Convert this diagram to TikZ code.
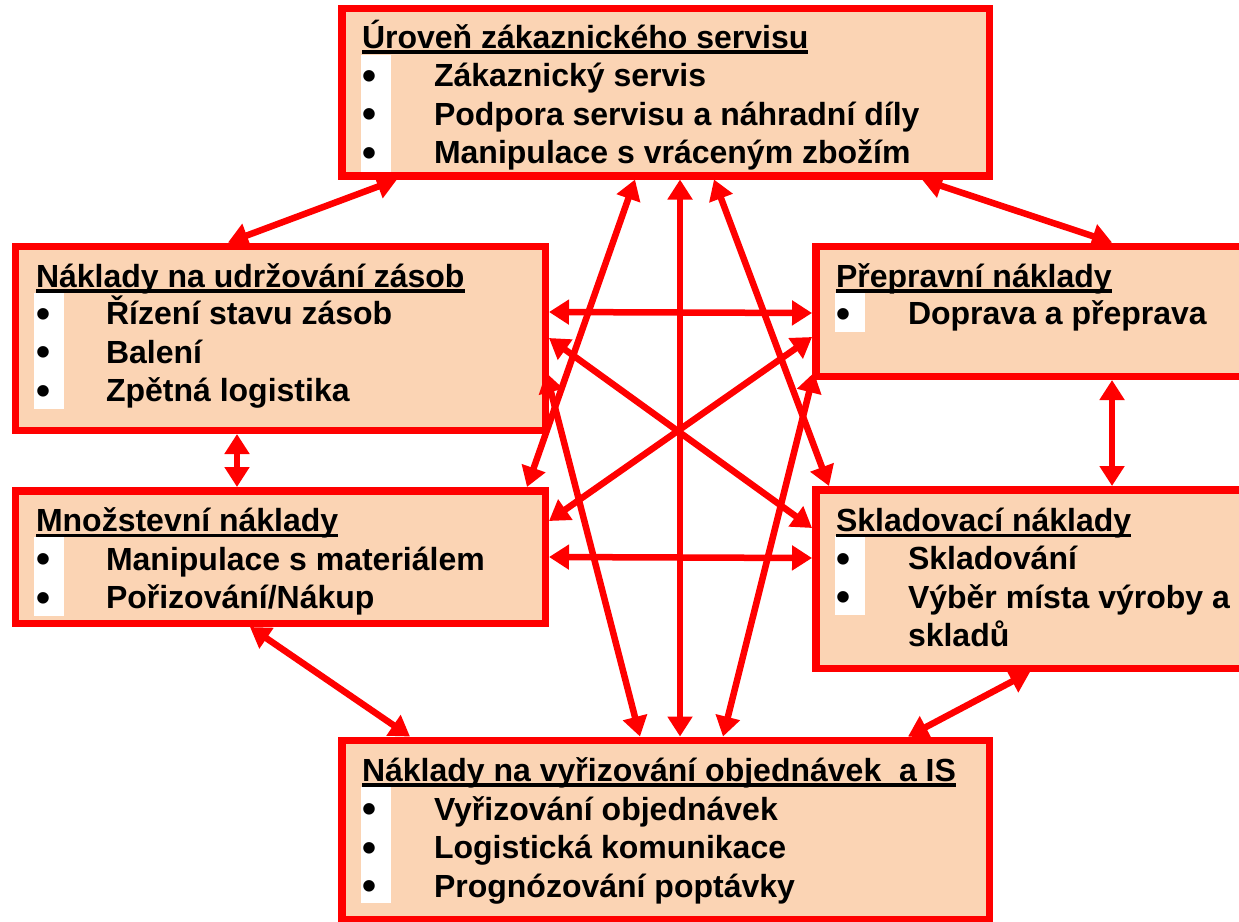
\documentclass[tikz,border=0pt]{standalone}
\usepackage{fontspec}
\setmainfont{Liberation Sans}
\usetikzlibrary{arrows.meta}
\definecolor{peach}{HTML}{FBD4B4}
\definecolor{rd}{HTML}{FF0000}
\begin{document}
\begin{tikzpicture}[x=1pt,y=-1pt,
  box/.style={draw=rd,fill=peach,line width=7.5pt,outer sep=3.75pt,inner sep=0pt,rectangle},
  txt/.style={anchor=base west,inner sep=0pt,outer sep=0pt,font=\fontsize{32}{38}\selectfont\bfseries},
  bul/.style={anchor=base west,inner sep=0pt,outer sep=0pt,yshift=-2.5pt,xshift=0.5pt,font=\fontsize{40}{40}\selectfont\bfseries},
  uline/.style={line width=3.5pt,black},
  dbl/.style={draw=rd,line width=6.5pt,{Triangle[length=20pt,width=24pt]}-{Triangle[length=20pt,width=24pt]}},
  bulletbg/.style={fill=white}]
\path[use as bounding box] (0,0) rectangle (1239,921);
\clip (0,0) rectangle (1239,921);

% boxes
\node[box,minimum width=647.5pt,minimum height=167.5pt] (top) at (665.5,92) {};
\node[box,minimum width=530pt,minimum height=184pt] (lt) at (280.25,338.25) {};
\node[box,minimum width=444.25pt,minimum height=130pt] (rt) at (1037.9,311.25) {};
\node[box,minimum width=530pt,minimum height=132.5pt] (lb) at (280.25,557) {};
\node[box,minimum width=444.25pt,minimum height=178.5pt] (rb) at (1037.9,579) {};
\node[box,minimum width=647.5pt,minimum height=179.25pt] (bot) at (665.5,829.9) {};

% white bullet columns
\fill[bulletbg] (361,55) rectangle (391,172);
\fill[bulletbg] (34,293) rectangle (63.5,409);
\fill[bulletbg] (835,293) rectangle (865,332);
\fill[bulletbg] (34,537) rectangle (63.5,616);
\fill[bulletbg] (835,536) rectangle (865,615);
\fill[bulletbg] (361,787) rectangle (391,903);

% top box text
\node[txt] (topT) at (362,48) {Úroveň zákaznického servisu};
\node[bul] (topB1) at (362,86.5) {•};
\node[bul] (topB2) at (362,125) {•};
\node[bul] (topB3) at (362,163.5) {•};
\node[txt] (topL1) at (434,86.5) {Zákaznický servis};
\node[txt] (topL2) at (434,125) {Podpora servisu a náhradní díly};
\node[txt] (topL3) at (434,163.5) {Manipulace s vráceným zbožím};

% left top
\node[txt] (ltT) at (36,287) {Náklady na udržování zásob};
\node[bul] (ltB1) at (36,324.5) {•};
\node[bul] (ltB2) at (36,363) {•};
\node[bul] (ltB3) at (36,401.5) {•};
\node[txt] (ltL1) at (106,324.5) {Řízení stavu zásob};
\node[txt] (ltL2) at (106,363) {Balení};
\node[txt] (ltL3) at (106,401.5) {Zpětná logistika};

% right top
\node[txt] (rtT) at (836,287) {Přepravní náklady};
\node[bul] (rtB1) at (836,324.5) {•};
\node[txt] (rtL1) at (908,324.5) {Doprava a přeprava};

% left bottom
\node[txt] (lbT) at (36,531.5) {Množstevní náklady};
\node[bul] (lbB1) at (36,570) {•};
\node[bul] (lbB2) at (36,608.5) {•};
\node[txt] (lbL1) at (106,570) {Manipulace s materiálem};
\node[txt] (lbL2) at (106,608.5) {Pořizování/Nákup};

% right bottom
\node[txt] (rbT) at (836,531.5) {Skladovací náklady};
\node[bul] (rbB1) at (836,569.5) {•};
\node[bul] (rbB2) at (836,608) {•};
\node[txt] (rbL1) at (908,569.5) {Skladování};
\node[txt] (rbL2) at (908,608) {Výběr místa výroby a};
\node[txt] (rbL3) at (908,646.5) {skladů};

% bottom
\node[txt] (botT) at (362,781) {Náklady na vyřizování objednávek\ \ a IS};
\node[bul] (botB1) at (362,820) {•};
\node[bul] (botB2) at (362,858.5) {•};
\node[bul] (botB3) at (362,897) {•};
\node[txt] (botL1) at (434,820) {Vyřizování objednávek};
\node[txt] (botL2) at (434,858.5) {Logistická komunikace};
\node[txt] (botL3) at (434,897) {Prognózování poptávky};

% underlines
\foreach \t in {topT,ltT,rtT,lbT,rbT,botT}
  \draw[uline] ([yshift=-3.8pt]\t.base west) -- ([yshift=-3.8pt]\t.base east);

% connectors
\draw[dbl] ([xshift=59pt]top.south west) -- ([xshift=216.5pt]lt.north west);
\draw[dbl] ([xshift=584pt]top.south west) -- ([xshift=300pt]rt.north west);
\draw[dbl] ([xshift=225.5pt]lt.south west) -- ([xshift=225.5pt]lb.north west);
\draw[dbl] ([xshift=300pt]rt.south west) -- ([xshift=300pt]rb.north west);
\draw[dbl] ([xshift=238.5pt]lb.south west) -- ([xshift=72pt]bot.north west);
\draw[dbl] ([xshift=218pt]rb.south west) -- ([xshift=570pt]bot.north west);
\draw[dbl] ([yshift=-69.5pt]lt.north east) -- ([yshift=-70.5pt]rt.north west);
\draw[dbl] ([yshift=-70pt]lb.north east) -- ([yshift=-72pt]rb.north west);
\draw[dbl] ([yshift=-95.5pt]lt.north east) -- ([yshift=-42pt]rb.north west);
\draw[dbl] ([yshift=-94.5pt]rt.north west) -- ([yshift=-34pt]lb.north east);
\draw[dbl] ([xshift=342pt]top.south west) -- ([xshift=342pt]bot.north west);
\draw[dbl] ([xshift=297pt]top.south west) -- ([xshift=-22pt]lb.north east);
\draw[dbl] ([xshift=376pt]top.south west) -- ([xshift=17pt]rb.north west);
\draw[dbl] ([xshift=-3pt,yshift=-130pt]lt.north east) -- ([xshift=302pt]bot.north west);
\draw[dbl] ([xshift=2pt,yshift=-130pt]rt.north west) -- ([xshift=385pt]bot.north west);
\end{tikzpicture}
\end{document}
